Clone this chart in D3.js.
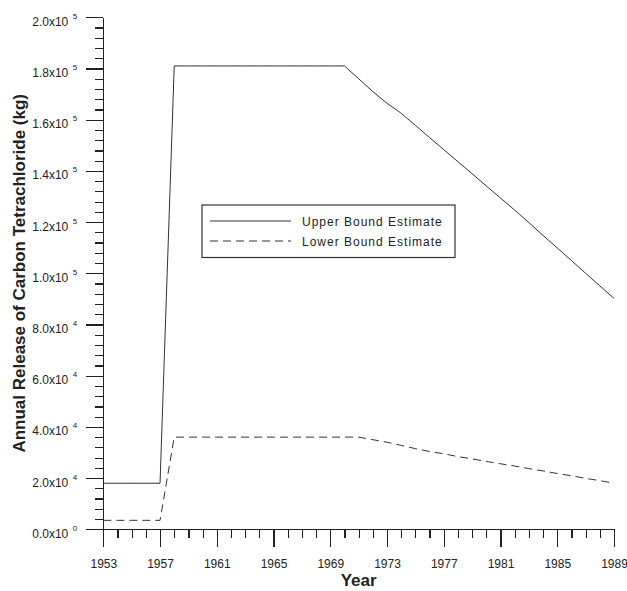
<!DOCTYPE html>
<html>
<head>
<meta charset="utf-8">
<script src="https://cdn.jsdelivr.net/npm/d3@7"></script>
<style>
  body { margin: 0; background: #fff; }
  svg { display: block; font-family: "Liberation Sans", Arial, sans-serif; }
  .axis path, .axis line { stroke: #222; stroke-width: 1.2; shape-rendering: crispEdges; }
  .series { fill: none; stroke: #333; stroke-width: 1; }
</style>
</head>
<body>
<svg id="chart" width="627" height="591"></svg>
<script>
var years = [1953, 1954, 1955, 1956, 1957, 1958, 1959, 1960, 1961, 1962, 1963, 1964, 1965,
  1966, 1967, 1968, 1969, 1970, 1971, 1972, 1973, 1974, 1975, 1976, 1977, 1978, 1979,
  1980, 1981, 1982, 1983, 1984, 1985, 1986, 1987, 1988, 1989];

var upperBound = [18000, 18000, 18000, 18000, 18000,
  181000, 181000, 181000, 181000, 181000, 181000, 181000, 181000, 181000, 181000, 181000, 181000, 181000,
  176000, 171000, 166400, 162500, 157800, 153000, 148300, 143600, 138900, 134100, 129400,
  124700, 119800, 114800, 109900, 105000, 100000, 95100, 90200];

var lowerBound = [3500, 3500, 3500, 3500, 3500,
  36000, 36000, 36000, 36000, 36000, 36000, 36000, 36000, 36000, 36000, 36000, 36000, 36000, 36000,
  35000, 34000, 32800, 31500, 30400, 29500, 28400, 27500, 26500, 25600, 24700, 23700,
  22800, 21800, 20900, 19900, 19000, 18000];

var xTicks = [1953, 1957, 1961, 1965, 1969, 1973, 1977, 1981, 1985, 1989];
var yTicks = [0, 20000, 40000, 60000, 80000, 100000, 120000, 140000, 160000, 180000, 200000];
var yTickLabels = ['0.0x10', '2.0x10', '4.0x10', '6.0x10', '8.0x10', '1.0x10', '1.2x10', '1.4x10', '1.6x10', '1.8x10', '2.0x10'];
var yTickExps = ['0', '4', '4', '4', '4', '5', '5', '5', '5', '5', '5'];

var seriesNames = ['Upper Bound Estimate', 'Lower Bound Estimate'];

var svg = d3.select('#chart');
var margin = {top: 17.3, right: 13, bottom: 61.7, left: 103.3};
var width = 627 - margin.left - margin.right;
var height = 591 - margin.top - margin.bottom;

var g = svg.append('g').attr('transform', 'translate(' + margin.left + ',' + margin.top + ')');

var x = d3.scaleLinear().domain([1953, 1989]).range([0, width]);
var y = d3.scaleLinear().domain([0, 200000]).range([height, 0]);

// minor ticks
g.append('g')
    .attr('class', 'axis')
    .attr('transform', 'translate(0,' + height + ')')
    .call(d3.axisBottom(x).tickValues(d3.range(1953, 1990)).tickSize(9).tickFormat(''))
    .call(function(a) { a.select('.domain').remove(); });

g.append('g')
    .attr('class', 'axis')
    .call(d3.axisLeft(y).tickValues(d3.range(0, 200001, 4000)).tickSize(8.5).tickFormat(''))
    .call(function(a) { a.select('.domain').remove(); });

// major ticks
var xAxis = g.append('g')
    .attr('class', 'axis')
    .attr('transform', 'translate(0,' + height + ')')
    .call(d3.axisBottom(x).tickValues(xTicks).tickSize(18).tickSizeOuter(0).tickFormat(d3.format('d')));

xAxis.selectAll('text')
    .attr('y', 35)
    .attr('dy', '0.32em')
    .style('font-size', '12px')
    .style('fill', '#222');

var yAxis = g.append('g')
    .attr('class', 'axis')
    .call(d3.axisLeft(y).tickValues(yTicks).tickSize(17).tickSizeOuter(0).tickFormat(''));

var yLab = g.append('g');
yTicks.forEach(function(v, i) {
  yLab.append('text')
      .attr('x', -35)
      .attr('y', y(v) + 8.5)
      .attr('text-anchor', 'end')
      .style('font-size', '12px')
      .style('fill', '#222')
      .text(yTickLabels[i]);
  yLab.append('text')
      .attr('x', -30.5)
      .attr('y', y(v) + 1.5)
      .style('font-size', '8px')
      .style('fill', '#222')
      .text(yTickExps[i]);
});

// axis titles
svg.append('text')
    .attr('x', margin.left + width / 2)
    .attr('y', 586)
    .attr('text-anchor', 'middle')
    .style('font-size', '17px')
    .style('font-weight', 'bold')
    .style('fill', '#222')
    .text('Year');

svg.append('text')
    .attr('transform', 'translate(25,' + (margin.top + height / 2) + ') rotate(-90)')
    .attr('text-anchor', 'middle')
    .style('font-size', '17px')
    .style('font-weight', 'bold')
    .style('fill', '#222')
    .text('Annual Release of Carbon Tetrachloride (kg)');

// lines
var line = d3.line()
    .x(function(d) { return x(d[0]); })
    .y(function(d) { return y(d[1]); });

g.append('path')
    .attr('class', 'series')
    .attr('d', line(d3.zip(years, upperBound)));

g.append('path')
    .attr('class', 'series')
    .attr('stroke-dasharray', '8,5')
    .attr('d', line(d3.zip(years, lowerBound)));

// legend
var legend = svg.append('g').attr('transform', 'translate(202,205)');

legend.append('rect')
    .attr('width', 253)
    .attr('height', 52.5)
    .attr('fill', '#fff')
    .attr('stroke', '#333')
    .attr('stroke-width', 1.2);

seriesNames.forEach(function(name, i) {
  var ly = 16 + i * 20;
  legend.append('line')
      .attr('x1', 8)
      .attr('x2', 89)
      .attr('y1', ly)
      .attr('y2', ly)
      .attr('stroke', '#333')
      .attr('stroke-width', 1.2)
      .attr('stroke-dasharray', i === 1 ? '8,5' : null);
  legend.append('text')
      .attr('x', 100)
      .attr('y', ly + 4.5)
      .style('font-size', '12px')
      .style('letter-spacing', '1px')
      .style('fill', '#222')
      .text(name);
});
</script>
</body>
</html>
